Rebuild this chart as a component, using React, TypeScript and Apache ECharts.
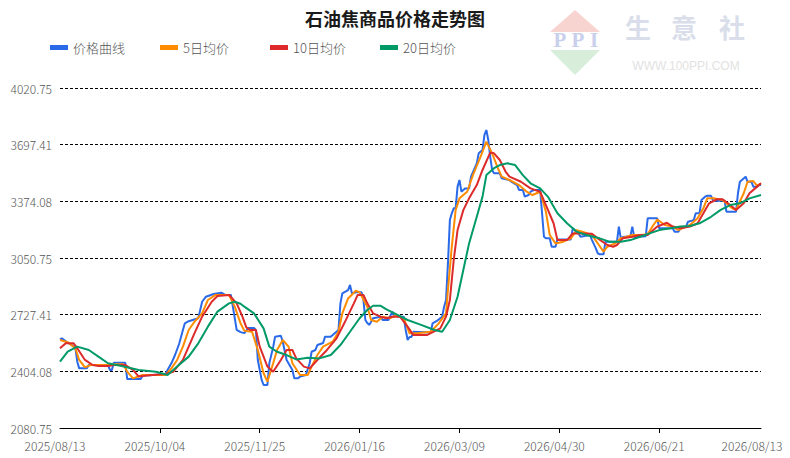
import React, { useEffect, useRef } from 'react';
import * as echarts from 'echarts';

const FONT = '"Noto Sans CJK SC", "Noto Sans", sans-serif';

const seriesNames = ['价格曲线', '5日均价', '10日均价', '20日均价'];
const seriesColors = ['#2a6ae9', '#ff8c00', '#dd2b2b', '#009a68'];

// x axis: days counted from 2025/08/13
const xLabelDays = [0, 52, 104, 156, 208, 260, 312, 365];
const xLabels = ['2025/08/13', '2025/10/04', '2025/11/25', '2026/01/16', '2026/03/09', '2026/04/30', '2026/06/21', '2026/08/13'];
const xTickDays = [52, 104, 156, 208, 260, 312];

const yTicks = [2080.75, 2404.08, 2727.41, 3050.75, 3374.08, 3697.41, 4020.75];
const yTickLabels = ['2080.75', '2404.08', '2727.41', '3050.75', '3374.08', '3697.41', '4020.75'];

// [day, price]
const price: [number, number][] = [
  [0, 2586], [1, 2592], [3, 2575], [6, 2555], [8, 2537], [9, 2459], [10, 2421], [14, 2421], [15, 2440], [25, 2440],
  [26, 2412], [27, 2412], [28, 2453], [34, 2453], [35, 2360], [42, 2360], [43, 2379], [55, 2389], [56, 2412], [58, 2450],
  [60, 2500], [62, 2560], [64, 2640], [65, 2678], [67, 2690], [72, 2707], [74, 2801], [76, 2830], [80, 2845], [84, 2853],
  [86, 2840], [89, 2840], [90, 2773], [92, 2640], [94, 2628], [96, 2622], [98, 2651], [101, 2651], [102, 2640], [103, 2469],
  [105, 2355], [106, 2326], [108, 2326], [109, 2451], [111, 2543], [112, 2602], [115, 2607], [116, 2573], [118, 2469], [121, 2412],
  [122, 2364], [124, 2364], [125, 2374], [128, 2383], [130, 2450], [131, 2516], [133, 2526], [134, 2554], [137, 2566], [138, 2602],
  [141, 2602], [142, 2611], [145, 2640], [146, 2792], [147, 2849], [150, 2868], [151, 2897], [152, 2849], [154, 2855], [157, 2855],
  [158, 2811], [159, 2697], [160, 2680], [161, 2669], [162, 2687], [163, 2707], [167, 2716], [168, 2697], [171, 2697], [173, 2745],
  [174, 2720], [175, 2720], [177, 2716], [179, 2716], [180, 2640], [181, 2583], [182, 2600], [183, 2600], [184, 2630], [193, 2625],
  [194, 2678], [196, 2690], [199, 2716], [200, 2773], [201, 2811], [202, 3020], [203, 3267], [204, 3306], [205, 3334], [206, 3334],
  [207, 3458], [208, 3496], [209, 3429], [210, 3439], [211, 3448], [213, 3448], [214, 3515], [217, 3591], [218, 3648], [220, 3667],
  [221, 3753], [222, 3781], [223, 3724], [224, 3629], [225, 3553], [226, 3534], [229, 3534], [230, 3505], [234, 3496], [235, 3486],
  [238, 3467], [239, 3439], [241, 3439], [242, 3401], [244, 3410], [245, 3429], [247, 3439], [250, 3439], [251, 3306], [252, 3172],
  [253, 3163], [255, 3163], [256, 3115], [258, 3115], [259, 3157], [266, 3157], [267, 3220], [268, 3210], [270, 3191], [271, 3172],
  [276, 3182], [277, 3153], [279, 3106], [280, 3077], [281, 3072], [283, 3072], [284, 3144], [290, 3144], [291, 3230], [292, 3163],
  [293, 3170], [297, 3175], [298, 3230], [299, 3170], [305, 3175], [306, 3277], [311, 3277], [312, 3220], [319, 3220], [320, 3201],
  [322, 3201], [323, 3220], [326, 3230], [327, 3258], [330, 3267], [331, 3306], [333, 3306], [334, 3382], [336, 3401], [337, 3406],
  [339, 3406], [340, 3378], [346, 3378], [347, 3315], [352, 3315], [353, 3420], [354, 3486], [357, 3515], [358, 3486], [360, 3486],
  [361, 3458], [363, 3458], [364, 3467], [365, 3467],
];

const ma5: [number, number][] = [
  [0, 2583], [4, 2570], [8, 2536], [10, 2469], [13, 2427], [16, 2440], [25, 2440], [27, 2445], [33, 2445], [35, 2402],
  [38, 2364], [43, 2383], [55, 2383], [58, 2421], [61, 2469], [64, 2545], [67, 2640], [70, 2687], [74, 2735], [77, 2811],
  [81, 2840], [88, 2840], [91, 2773], [94, 2678], [96, 2635], [100, 2630], [103, 2526], [106, 2393], [108, 2345], [111, 2450],
  [113, 2526], [116, 2583], [119, 2545], [121, 2450], [125, 2383], [129, 2383], [131, 2431], [134, 2497], [137, 2545], [142, 2573],
  [145, 2630], [147, 2735], [150, 2820], [154, 2864], [156, 2855], [160, 2773], [162, 2697], [165, 2687], [168, 2716], [172, 2707],
  [175, 2725], [179, 2707], [182, 2621], [186, 2621], [193, 2630], [197, 2675], [201, 2735], [202, 2868], [204, 3115], [206, 3324],
  [208, 3391], [212, 3429], [215, 3524], [219, 3629], [222, 3715], [225, 3648], [228, 3563], [230, 3515], [234, 3496], [239, 3467],
  [243, 3429], [246, 3410], [250, 3429], [253, 3315], [255, 3182], [258, 3134], [262, 3144], [266, 3163], [269, 3210], [272, 3201],
  [277, 3182], [280, 3134], [283, 3087], [285, 3115], [289, 3134], [292, 3163], [295, 3172], [298, 3182], [302, 3182], [306, 3187],
  [309, 3239], [311, 3270], [315, 3239], [319, 3230], [322, 3210], [324, 3220], [328, 3239], [332, 3277], [335, 3334], [337, 3391],
  [341, 3391], [345, 3382], [347, 3363], [350, 3334], [352, 3325], [356, 3420], [358, 3486], [361, 3490], [363, 3462], [365, 3477],
];

const ma10: [number, number][] = [
  [0, 2536], [3, 2565], [7, 2565], [9, 2536], [13, 2469], [17, 2440], [20, 2435], [25, 2435], [28, 2440], [34, 2440],
  [38, 2412], [41, 2374], [45, 2380], [55, 2389], [59, 2402], [64, 2469], [67, 2545], [70, 2621], [74, 2716], [79, 2801],
  [82, 2834], [88, 2840], [92, 2792], [95, 2716], [97, 2655], [99, 2640], [102, 2640], [104, 2545], [108, 2431], [111, 2402],
  [115, 2469], [118, 2526], [121, 2526], [123, 2478], [127, 2431], [130, 2421], [134, 2469], [139, 2526], [144, 2592], [148, 2678],
  [153, 2792], [155, 2840], [158, 2840], [160, 2792], [163, 2735], [167, 2716], [170, 2707], [173, 2716], [177, 2716], [181, 2659],
  [184, 2611], [191, 2611], [198, 2649], [201, 2716], [203, 2811], [205, 3039], [207, 3210], [210, 3324], [213, 3391], [217, 3467],
  [220, 3553], [224, 3652], [226, 3648], [229, 3610], [232, 3544], [234, 3515], [240, 3486], [245, 3448], [250, 3429], [253, 3353],
  [257, 3249], [259, 3153], [264, 3153], [267, 3191], [272, 3191], [277, 3189], [280, 3163], [285, 3125], [288, 3115], [290, 3125],
  [293, 3163], [298, 3172], [302, 3182], [306, 3182], [311, 3230], [316, 3252], [319, 3230], [323, 3220], [328, 3230], [332, 3249],
  [335, 3306], [338, 3363], [342, 3386], [345, 3386], [349, 3353], [352, 3325], [356, 3363], [359, 3420], [363, 3458], [365, 3477],
];

const ma20: [number, number][] = [
  [0, 2459], [4, 2516], [9, 2545], [15, 2526], [20, 2488], [25, 2450], [32, 2434], [41, 2412], [50, 2402], [56, 2383],
  [61, 2431], [67, 2488], [72, 2564], [77, 2659], [82, 2745], [88, 2792], [91, 2801], [94, 2790], [96, 2773], [101, 2735],
  [106, 2649], [109, 2545], [113, 2516], [118, 2497], [123, 2472], [129, 2482], [135, 2478], [141, 2497], [146, 2554], [151, 2630],
  [156, 2707], [160, 2754], [163, 2778], [167, 2778], [170, 2758], [176, 2725], [181, 2697], [188, 2669], [195, 2640], [199, 2630],
  [203, 2697], [207, 2830], [210, 2982], [213, 3134], [217, 3286], [220, 3401], [222, 3524], [226, 3563], [229, 3581], [233, 3591],
  [237, 3581], [241, 3524], [245, 3477], [250, 3448], [254, 3401], [259, 3306], [264, 3249], [269, 3201], [274, 3182], [281, 3163],
  [286, 3144], [292, 3144], [297, 3153], [302, 3172], [307, 3191], [312, 3210], [318, 3220], [323, 3230], [328, 3233], [333, 3249],
  [339, 3286], [344, 3325], [349, 3353], [354, 3363], [359, 3391], [365, 3410],
];

const seriesData = [price, ma5, ma10, ma20];

export default function App() {
  const ref = useRef<HTMLDivElement>(null);
  useEffect(() => {
    if (!ref.current) return;
    const chart = echarts.init(ref.current, null, { renderer: 'svg' });
    const option: any = {
      animation: false,
      backgroundColor: '#ffffff',
      title: {
        text: '石油焦商品价格走势图',
        left: 'center',
        top: 9,
        padding: 0,
        textStyle: { fontFamily: FONT, fontSize: 18, fontWeight: 'bold', color: '#1a1a1a' },
      },
      legend: seriesNames.map((name, i) => ({
        left: 50 + 110 * i,
        top: 41,
        padding: 0,
        icon: 'rect',
        itemWidth: 18,
        itemHeight: 5,
        data: [name],
        textStyle: { fontFamily: FONT, fontSize: 13, color: '#555', fontWeight: 300 },
      })),
      grid: { left: 60, right: 29, top: 88, bottom: 30, containLabel: false },
      xAxis: {
        type: 'value',
        min: 0,
        max: 365,
        axisLine: { show: true, lineStyle: { color: '#000', width: 1 } },
        axisTick: { show: true, length: 5, customValues: xTickDays, lineStyle: { color: '#000' } },
        splitLine: { show: false },
        axisLabel: {
          customValues: xLabelDays,
          margin: 11,
          padding: [0, 10, 0, 0],
          fontFamily: FONT,
          fontSize: 12,
          fontWeight: 300,
          color: '#555',
          formatter: (v: number) => {
            const i = xLabelDays.indexOf(Math.round(v));
            if (i < 0) return '';
            return i === xLabelDays.length - 1 ? `{e|${xLabels[i]}}` : xLabels[i];
          },
          rich: { e: { fontFamily: FONT, fontSize: 12, fontWeight: 300, color: '#555', padding: [0, 8, 0, 0] } },
        },
      },
      yAxis: {
        type: 'value',
        min: 2080.75,
        max: 4020.75,
        axisLine: { show: false },
        axisTick: { show: false, customValues: yTicks },
        splitLine: { show: true, lineStyle: { color: '#000', width: 1, type: [3, 2] } },
        axisLabel: {
          customValues: yTicks,
          margin: 8,
          fontFamily: FONT,
          fontSize: 12,
          fontWeight: 300,
          color: '#555',
          formatter: (v: number) => {
            const i = yTicks.findIndex((t) => Math.abs(t - v) < 0.01);
            return i >= 0 ? yTickLabels[i] : '';
          },
        },
      },
      series: seriesNames.map((name, i) => ({
        name,
        type: 'line',
        data: seriesData[i],
        showSymbol: false,
        symbol: 'none',
        smooth: false,
        color: seriesColors[i],
        lineStyle: { color: seriesColors[i], width: 2 },
      })),
      graphic: [
        { type: 'polygon', shape: { points: [[550, 32], [600, 32], [575, 10]] }, style: { fill: '#f7d4d0' }, silent: true },
        { type: 'polygon', shape: { points: [[550, 50], [600, 50], [575, 75]] }, style: { fill: '#d8eedb' }, silent: true },
        { type: 'text', x: 560, y: 40, style: { text: 'P', fill: '#c9d0ec', font: 'bold 21px "Liberation Serif", serif', align: 'center', verticalAlign: 'middle' }, silent: true },
        { type: 'text', x: 578, y: 40, style: { text: 'P', fill: '#c9d0ec', font: 'bold 21px "Liberation Serif", serif', align: 'center', verticalAlign: 'middle' }, silent: true },
        { type: 'text', x: 594, y: 40, style: { text: 'I', fill: '#c9d0ec', font: 'bold 21px "Liberation Serif", serif', align: 'center', verticalAlign: 'middle' }, silent: true },
        { type: 'text', x: 638, y: 26, style: { text: '生', fill: '#d9deea', font: 'bold 26px "Noto Sans CJK SC", sans-serif', align: 'center', verticalAlign: 'middle' }, silent: true },
        { type: 'text', x: 684, y: 26, style: { text: '意', fill: '#d9deea', font: 'bold 26px "Noto Sans CJK SC", sans-serif', align: 'center', verticalAlign: 'middle' }, silent: true },
        { type: 'text', x: 732, y: 26, style: { text: '社', fill: '#d9deea', font: 'bold 26px "Noto Sans CJK SC", sans-serif', align: 'center', verticalAlign: 'middle' }, silent: true },
        { type: 'text', x: 686, y: 66, style: { text: 'WWW.100PPI.COM', fill: '#e2e2e2', font: '12px "Liberation Sans", Arial, sans-serif', align: 'center', verticalAlign: 'middle' }, silent: true },
      ],
    };
    chart.setOption(option);
    return () => chart.dispose();
  }, []);
  return <div ref={ref} style={{ position: 'fixed', left: 0, top: 0, width: 790, height: 458 }} />;
}
